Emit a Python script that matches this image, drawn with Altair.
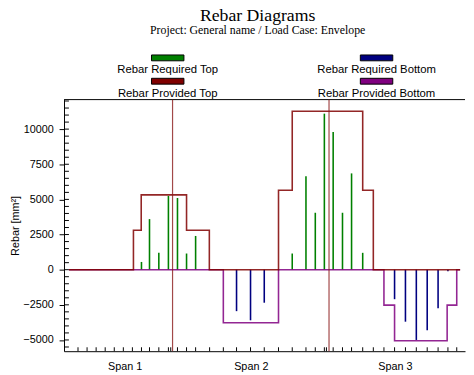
import altair as alt
import pandas as pd

# ---- data (x in metres along the beam, values in mm²) ----
series = ["Rebar Required Top", "Rebar Required Bottom", "Rebar Provided Top", "Rebar Provided Bottom"]
colors = ["#008000", "#000080", "#800000", "#800080"]

req_top_x = [2.80, 3.11, 3.47, 3.84, 4.19, 4.54, 4.89, 8.62, 9.15, 9.51, 9.86, 10.20, 10.56, 10.91, 11.34]
req_top_val = [550, 3600, 1200, 5250, 5100, 1150, 2400, 1150, 6650, 4050, 11100, 9800, 4050, 6850, 1200]

req_bot_x = [6.47, 7.01, 7.54, 12.57, 12.99, 13.41, 13.83, 14.25, 14.63]
req_bot_val = [-2950, -3600, -2350, -2100, -3700, -5000, -4300, -2750, -120]

prov_top_x = [0, 2.49, 2.79, 4.54, 5.42, 8.09, 8.62, 11.34, 11.75, 15.1]
prov_top_val = [0, 2800, 5320, 2800, 0, 5650, 11270, 5650, 0, 0]

prov_bot_x = [0, 5.96, 8.09, 12.16, 12.57, 14.60, 14.97, 15.1]
prov_bot_val = [0, -3780, 0, -2520, -5050, -2520, 0, 0]

supports = [4.0, 10.04]

span_names = ["Span 1", "Span 2", "Span 3"]
span_label_x = [2.15, 7.02, 12.58]

stations = [0.35, 0.70, 1.05, 1.40, 1.75, 2.10, 2.45, 2.80, 3.11, 3.47, 3.84, 3.93,
            4.19, 4.54, 4.89, 5.43, 5.96, 6.47, 7.01, 7.54, 8.09, 8.62, 9.15, 9.51,
            9.86, 9.94, 10.20, 10.56, 10.91, 11.34, 11.75, 12.16, 12.57, 12.99, 13.41,
            13.83, 14.25, 14.63, 14.97]

y_domain = [-5800, 12100]
y_major = [-5000, -2500, 0, 2500, 5000, 7500, 10000]
y_minor = [-5500, -5000, -4500, -4000, -3500, -3000, -2500, -2000, -1500, -1000, -500,
           0, 500, 1000, 1500, 2000, 2500, 3000, 3500, 4000, 4500, 5000, 5500, 6000,
           6500, 7000, 7500, 8000, 8500, 9000, 9500, 10000, 10500, 11000, 11500, 12000]

# ---- tables ----
req_df = pd.concat([
    pd.DataFrame({"x": req_top_x, "value": req_top_val, "series": series[0]}),
    pd.DataFrame({"x": req_bot_x, "value": req_bot_val, "series": series[1]}),
])
prov_top_df = pd.DataFrame({"x": prov_top_x, "value": prov_top_val})
prov_bot_df = pd.DataFrame({"x": prov_bot_x, "value": prov_bot_val})
sup_df = pd.DataFrame({"x": supports})
st_df = pd.DataFrame({"x": stations})
ym_df = pd.DataFrame({"value": y_minor})
top_df = pd.DataFrame({"value": [y_domain[1]]})

W, H = 408, 256
xscale = alt.Scale(domain=[0, 15.1], nice=False, zero=False)
yscale = alt.Scale(domain=y_domain, nice=False, zero=False)
cscale = alt.Scale(domain=series, range=colors)

label_expr = "".join(
    f"abs(datum.value - {p}) < 0.01 ? '{n}' : " for p, n in zip(span_label_x, span_names)
) + "''"

legend = alt.Legend(
    title=None, orient="none", legendX=71.5, legendY=-47,
    direction="horizontal", columns=2, columnPadding=99.5, rowPadding=0,
    symbolType="M0.03,-0.95H2.03V-0.59H0.03Z", symbolSize=1089,
    symbolStrokeColor="black", symbolStrokeWidth=1,
    labelAlign="center", labelOffset=0, labelFont="Liberation Sans",
    labelFontSize=11.5, labelColor="black", labelLimit=300,
)

stems = alt.Chart(req_df).mark_bar(size=1.6).encode(
    x=alt.X("x:Q", scale=xscale, axis=alt.Axis(
        orient="bottom", values=span_label_x, labelExpr=label_expr, ticks=False,
        tickSize=0, labelPadding=10, grid=False, title=None, domainColor="black")),
    y=alt.Y("value:Q", scale=yscale, axis=alt.Axis(
        orient="left", values=y_major, format="d", tickSize=5, labelPadding=6,
        titlePadding=2, grid=False, title="Rebar [mm²]", domainColor="black",
        tickColor="black")),
    y2=alt.datum(0),
    color=alt.Color("series:N", scale=cscale, legend=legend),
)
minor = alt.Chart(ym_df).mark_rule(color="black", strokeWidth=1).encode(
    y=alt.Y("value:Q", scale=yscale),
    x=alt.value(0), x2=alt.value(5),
)
top_border = alt.Chart(top_df).mark_rule(color="black", strokeWidth=1).encode(
    y=alt.Y("value:Q", scale=yscale),
)
st_ticks = alt.Chart(st_df).mark_rule(color="black", strokeWidth=1).encode(
    x=alt.X("x:Q", scale=xscale),
    y=alt.value(H), y2=alt.value(H - 4),
)
prov_bot = alt.Chart(prov_bot_df).mark_line(
    interpolate="step-after", strokeWidth=1.6, opacity=0.85, color=colors[3]
).encode(x=alt.X("x:Q", scale=xscale), y=alt.Y("value:Q", scale=yscale))
prov_top = alt.Chart(prov_top_df).mark_line(
    interpolate="step-after", strokeWidth=1.6, opacity=0.85, color=colors[2]
).encode(x=alt.X("x:Q", scale=xscale), y=alt.Y("value:Q", scale=yscale))
sup = alt.Chart(sup_df).mark_rule(color="#8b1a1a", strokeWidth=1.2, opacity=0.8).encode(
    x=alt.X("x:Q", scale=xscale),
)

chart = alt.layer(stems, minor, top_border, st_ticks, prov_bot, prov_top, sup).properties(
    width=W, height=H,
    autosize=alt.AutoSizeParams(type="none"),
    padding={"left": 57, "top": 90, "right": 1, "bottom": 21},
    title=alt.TitleParams(
        text="Rebar Diagrams",
        subtitle="Project: General name / Load Case: Envelope",
        font="Liberation Serif", fontSize=18, fontWeight="normal", color="black",
        subtitleFont="Liberation Serif", subtitleFontSize=12, subtitleColor="black",
        subtitlePadding=0, anchor="middle", frame="group", dx=-7, offset=18,
    ),
).configure_view(stroke=None).configure_axis(
    labelFont="Liberation Sans", labelFontSize=11, labelColor="black",
    titleFont="Liberation Sans", titleFontSize=11, titleFontWeight="normal",
    titleColor="black", domainColor="black", tickColor="black",
)

chart.save("out.html", embed_options={"renderer": "svg", "actions": False})
